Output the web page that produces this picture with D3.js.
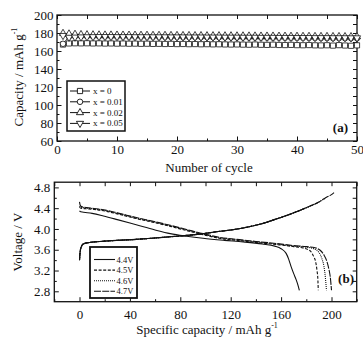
<!DOCTYPE html>
<html>
<head>
<meta charset="UTF-8">
<script src="https://cdn.jsdelivr.net/npm/d3@7/dist/d3.min.js"></script>
<style>
  body { margin: 0; background: #fff; }
  text { font-family: "Liberation Serif", "Times New Roman", serif; fill: #111; }
</style>
</head>
<body>
<script>
// panel (a): capacity vs cycle
const cycles = [1,2,3,4,5,6,7,8,9,10,11,12,13,14,15,16,17,18,19,20,21,22,23,24,25,
  26,27,28,29,30,31,32,33,34,35,36,37,38,39,40,41,42,43,44,45,46,47,48,49,50];
const capX0 = [167.2,168.4,168.6,168.5,168.6,168.4,168.5,168.3,168.4,168.2,168.3,168.1,168.2,168.0,168.1,167.9,168.0,167.8,167.9,167.7,
  167.8,167.6,167.7,167.5,167.6,167.4,167.5,167.3,167.2,167.3,167.1,167.0,167.2,166.9,166.8,167.0,166.7,166.6,166.8,166.5,
  166.4,166.6,166.3,166.2,166.4,166.0,166.5,166.1,165.8,166.3];
const capX001 = [168.0,176.0,176.3,176.4,176.3,176.2,176.2,176.1,176.1,176.0,176.0,175.9,175.9,175.9,175.8,175.8,175.7,175.7,175.6,175.6,
  175.5,175.5,175.5,175.4,175.4,175.3,175.3,175.2,175.2,175.1,175.1,175.0,175.0,174.9,174.9,174.8,174.8,174.7,174.7,174.6,
  174.6,174.5,174.5,174.4,174.4,174.3,174.3,174.2,174.2,174.1];
const capX002 = [179.6,179.0,178.6,178.3,178.1,178.0,177.9,177.8,177.8,177.7,177.7,177.6,177.6,177.5,177.5,177.4,177.4,177.4,177.3,177.3,
  177.2,177.2,177.1,177.1,177.0,177.0,177.0,176.9,176.9,176.8,176.8,176.7,176.7,176.6,176.6,176.6,176.5,176.5,176.4,176.4,
  176.3,176.3,176.2,176.2,176.2,176.1,176.1,176.0,176.0,175.9];
const capX005 = [177.2,175.2,175.4,175.6,175.8,175.9,176.0,176.0,176.0,175.9,175.9,175.9,175.8,175.8,175.8,175.7,175.7,175.7,175.6,175.6,
  175.6,175.5,175.5,175.5,175.4,175.4,175.4,175.3,175.3,175.3,175.2,175.2,175.2,175.1,175.1,175.1,175.0,175.0,175.0,174.9,
  174.9,174.9,174.8,174.8,174.8,174.7,174.7,174.7,174.6,174.6];
const seriesA = ['x = 0', 'x = 0.01', 'x = 0.02', 'x = 0.05'];

// panel (b): voltage profiles, charge and discharge per cut-off
const chg44Cap = [0,0.5,1.5,3,8,20,45,72,95,110,120,130,143,156,170,179];
const chg44V   = [3.40,3.56,3.66,3.71,3.74,3.765,3.80,3.85,3.90,3.95,3.98,4.02,4.09,4.19,4.31,4.40];
const chg45Cap = [0,0.5,1.5,3,8,20,45,72,95,110,120,130,143,156,170,183,189];
const chg45V   = [3.40,3.56,3.66,3.71,3.74,3.765,3.80,3.85,3.90,3.95,3.98,4.02,4.09,4.19,4.31,4.44,4.50];
const chg46Cap = [0,0.5,1.5,3,8,20,45,72,95,110,120,130,143,156,170,183,190,195.5];
const chg46V   = [3.40,3.56,3.66,3.71,3.74,3.765,3.80,3.85,3.90,3.95,3.98,4.02,4.09,4.19,4.31,4.44,4.52,4.60];
const chg47Cap = [0,0.5,1.5,3,8,20,45,72,95,110,120,130,143,156,170,183,190,196,200,202];
const chg47V   = [3.40,3.56,3.66,3.71,3.74,3.765,3.80,3.85,3.90,3.95,3.98,4.02,4.09,4.19,4.31,4.44,4.52,4.61,4.66,4.70];

const dis44Cap = [0,1,10,19,30,45,60,72,85,98,115,130,145,155,160,164,166,168,170,172,173.5,174.5];
const dis44V   = [4.35,4.33,4.30,4.25,4.18,4.08,3.98,3.91,3.86,3.82,3.78,3.75,3.71,3.67,3.62,3.53,3.42,3.27,3.14,3.02,2.91,2.82];
const dis45Cap = [0,1,10,19,30,45,60,72,85,98,111,125,140,156,170,178,183,186,187.5,188.5,189.2,189.5];
const dis45V   = [4.42,4.40,4.38,4.35,4.29,4.20,4.12,4.05,3.97,3.89,3.82,3.78,3.74,3.70,3.66,3.63,3.58,3.46,3.36,3.20,3.02,2.82];
const dis46Cap = [0,1,10,19,30,45,60,72,85,98,111,125,140,156,170,180,186,190,192.5,194,195.2,196];
const dis46V   = [4.44,4.42,4.39,4.36,4.30,4.21,4.13,4.06,3.98,3.90,3.83,3.79,3.75,3.71,3.67,3.65,3.62,3.55,3.42,3.28,3.05,2.82];
const dis47Cap = [0,0.5,1.5,10,19,30,45,60,72,85,98,111,125,140,156,170,180,187,191,194,196,198,199,200];
const dis47V   = [4.52,4.46,4.43,4.40,4.37,4.31,4.22,4.14,4.07,3.99,3.91,3.84,3.80,3.76,3.72,3.68,3.66,3.64,3.59,3.50,3.40,3.22,3.08,2.82];
const seriesB = ['4.4V', '4.5V', '4.6V', '4.7V'];
const dashB = [null, '3,1.6', '1,1', '7,1.2'];

const svg = d3.select('body').append('svg')
  .attr('width', 363).attr('height', 339);

function styleAxis(g, size) {
  g.select('.domain').remove();
  g.selectAll('line').attr('stroke', '#111').attr('stroke-width', 1);
  g.selectAll('text').attr('font-family', '"Liberation Serif", serif')
    .attr('font-size', size).attr('fill', '#111');
}

function frameAxes(x, y, majX, minX, majY, minY, padX, padY, fmtY) {
  const [x0, x1] = x.range();
  const [y0, y1] = y.range();
  svg.append('g').attr('transform', `translate(0,${y0})`)
    .call(d3.axisBottom(x).tickValues(majX).tickSize(-4.5).tickPadding(padX).tickFormat(d3.format('d')))
    .call(g => styleAxis(g, 13));
  svg.append('g').attr('transform', `translate(0,${y0})`)
    .call(d3.axisBottom(x).tickValues(minX).tickSize(-2.5).tickFormat(''))
    .call(g => styleAxis(g, 13));
  svg.append('g').attr('transform', `translate(0,${y1})`)
    .call(d3.axisTop(x).tickValues(majX.concat(minX)).tickSize(-4).tickFormat(''))
    .call(g => styleAxis(g, 13));
  svg.append('g').attr('transform', `translate(${x0},0)`)
    .call(d3.axisLeft(y).tickValues(majY).tickSize(-4.5).tickPadding(padY).tickFormat(d3.format(fmtY)))
    .call(g => styleAxis(g, 13));
  svg.append('g').attr('transform', `translate(${x0},0)`)
    .call(d3.axisLeft(y).tickValues(minY).tickSize(-2.5).tickFormat(''))
    .call(g => styleAxis(g, 13));
  svg.append('g').attr('transform', `translate(${x1},0)`)
    .call(d3.axisRight(y).tickValues(majY.concat(minY)).tickSize(-4).tickFormat(''))
    .call(g => styleAxis(g, 13));
  svg.append('rect')
    .attr('x', x0).attr('y', y1).attr('width', x1 - x0).attr('height', y0 - y1)
    .attr('fill', 'none').attr('stroke', '#111').attr('stroke-width', 1.3);
}

// ---------- panel (a) ----------
const xA = d3.scaleLinear().domain([0, 50]).range([57, 357]);
const yA = d3.scaleLinear().domain([60, 200]).range([141, 15]);

frameAxes(xA, yA, [0,10,20,30,40,50], [5,15,25,35,45],
  [60,80,100,120,140,160,180,200], [70,90,110,130,150,170,190], 4, 3.5, 'd');

const symbols = [
  d3.symbol().type(d3.symbolSquare).size(27),
  d3.symbol().type(d3.symbolCircle).size(24),
  d3.symbol().type(d3.symbolTriangle).size(22),
  d3.symbol().type(d3.symbolTriangle).size(22)
];
const rotA = [0, 0, 0, 180];
const dataA = [capX0, capX001, capX002, capX005];

const lineA = d3.line().x(d => xA(d[0])).y(d => yA(d[1]));
dataA.forEach((vals, i) => {
  const pts = cycles.map((c, j) => [c, vals[j]]);
  svg.append('path').datum(pts).attr('d', lineA)
    .attr('fill', 'none').attr('stroke', '#111').attr('stroke-width', 0.8);
  svg.append('g').selectAll('path').data(pts).join('path')
    .attr('d', symbols[i])
    .attr('transform', d => `translate(${xA(d[0])},${yA(d[1])}) rotate(${rotA[i]})`)
    .attr('fill', '#fff').attr('stroke', '#111').attr('stroke-width', 0.8);
});

// legend (a)
const legA = svg.append('g');
legA.append('rect').attr('x', 67).attr('y', 81).attr('width', 58).attr('height', 50)
  .attr('fill', '#fff').attr('stroke', '#111').attr('stroke-width', 1.5);
seriesA.forEach((name, i) => {
  const yy = 91 + i * 10.8;
  legA.append('line').attr('x1', 70).attr('x2', 90).attr('y1', yy).attr('y2', yy)
    .attr('stroke', '#111').attr('stroke-width', 1);
  legA.append('path').attr('d', symbols[i])
    .attr('transform', `translate(80,${yy}) rotate(${rotA[i]})`)
    .attr('fill', '#fff').attr('stroke', '#111').attr('stroke-width', 0.9);
  legA.append('text').attr('x', 93).attr('y', yy + 3).attr('font-size', 9).text(name);
});

svg.append('text').attr('x', 348).attr('y', 132).attr('text-anchor', 'end')
  .attr('font-size', 13).attr('font-weight', 'bold').text('(a)');

svg.append('text').attr('x', 209).attr('y', 172).attr('text-anchor', 'middle')
  .attr('font-size', 13).text('Number of cycle');

const tA = svg.append('text').attr('transform', 'translate(23,77) rotate(-90)')
  .attr('text-anchor', 'middle').attr('font-size', 13);
tA.append('tspan').text('Capacity / mAh g');
tA.append('tspan').attr('font-size', 8).attr('dy', -6).text('-1');

// ---------- panel (b) ----------
const xB = d3.scaleLinear().domain([-20, 220]).range([54.3, 356.7]);
const yB = d3.scaleLinear().domain([2.6, 4.9]).range([301.7, 182.2]);

frameAxes(xB, yB, [0,40,80,120,160,200], [-20,20,60,100,140,180,220],
  [2.8,3.2,3.6,4.0,4.4,4.8], [3.0,3.4,3.8,4.2,4.6], 8, 4, '.1f');

const lineB = d3.line().x(d => xB(d[0])).y(d => yB(d[1])).curve(d3.curveMonotoneX);
const chgB = [[chg44Cap, chg44V], [chg45Cap, chg45V], [chg46Cap, chg46V], [chg47Cap, chg47V]];
const disB = [[dis44Cap, dis44V], [dis45Cap, dis45V], [dis46Cap, dis46V], [dis47Cap, dis47V]];

[chgB, disB].forEach(group => {
  group.forEach(([caps, volts], i) => {
    const pts = caps.map((c, j) => [c, volts[j]]);
    svg.append('path').datum(pts).attr('d', lineB)
      .attr('fill', 'none').attr('stroke', '#111').attr('stroke-width', 1.1)
      .attr('stroke-dasharray', dashB[i]);
  });
});

// legend (b)
const legB = svg.append('g');
legB.append('rect').attr('x', 90).attr('y', 247).attr('width', 47).attr('height', 51)
  .attr('fill', '#fff').attr('stroke', '#111').attr('stroke-width', 1.8);
seriesB.forEach((name, i) => {
  const yy = 259.5 + i * 10.6;
  legB.append('line').attr('x1', 94).attr('x2', 115).attr('y1', yy).attr('y2', yy)
    .attr('stroke', '#111').attr('stroke-width', 1.1).attr('stroke-dasharray', dashB[i]);
  legB.append('text').attr('x', 116.5).attr('y', yy + 3).attr('font-size', 8.5).text(name);
});

svg.append('text').attr('x', 354).attr('y', 283).attr('text-anchor', 'end')
  .attr('font-size', 13).attr('font-weight', 'bold').text('(b)');

const tB = svg.append('text').attr('x', 207).attr('y', 334).attr('text-anchor', 'middle')
  .attr('font-size', 13);
tB.append('tspan').text('Specific capacity / mAh g');
tB.append('tspan').attr('font-size', 8).attr('dy', -6).text('-1');

svg.append('text').attr('transform', 'translate(22,242) rotate(-90)')
  .attr('text-anchor', 'middle').attr('font-size', 13).text('Voltage / V');
</script>
</body>
</html>
